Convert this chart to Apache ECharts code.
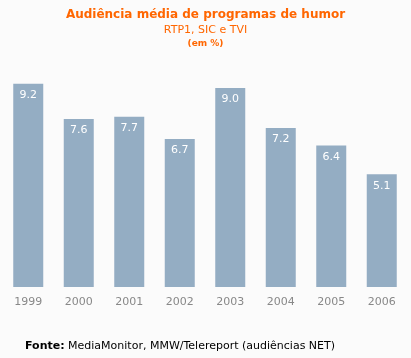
<!DOCTYPE html>
<html><head><meta charset="utf-8">
<script src="https://cdn.jsdelivr.net/npm/echarts@6/dist/echarts.min.js"></script>
<style>html,body{margin:0;padding:0;background:#fbfbfb}#c{width:411px;height:358px}</style>
</head><body><div id="c"></div>
<script>
const categories = ['1999','2000','2001','2002','2003','2004','2005','2006'];
const values = [9.2, 7.6, 7.7, 6.7, 9.0, 7.2, 6.4, 5.1];
const chart = echarts.init(document.getElementById('c'));
const F = 'DejaVu Sans, Verdana, sans-serif';
chart.setOption({
  backgroundColor: '#fbfbfb',
  animation: false,
  title: [
    {text: 'Audiência média de programas de humor', left: 'center', top: 4,
     textStyle: {fontFamily: F, fontSize: 12, fontWeight: 'bold', color: '#ff6600'}},
    {text: 'RTP1, SIC e TVI', left: 'center', top: 20,
     textStyle: {fontFamily: F, fontSize: 11, fontWeight: 'normal', color: '#ff6600'}},
    {text: '(em %)', left: 'center', top: 34,
     textStyle: {fontFamily: F, fontSize: 9, fontWeight: 'bold', color: '#ff6600'}},
    {text: '{b|Fonte:} MediaMonitor, MMW/Telereport (audiências NET)', left: 20, top: 336,
     textStyle: {fontFamily: F, fontSize: 11, fontWeight: 'normal', color: '#000',
       rich: {b: {fontFamily: F, fontSize: 11, fontWeight: 'bold', color: '#000'}}}}
  ],
  grid: {left: 3, right: 4, top: 66, bottom: 71},
  xAxis: {type: 'category', data: categories,
    axisLine: {show: false}, axisTick: {show: false},
    axisLabel: {fontFamily: F, fontSize: 11, color: '#888', margin: 10}},
  yAxis: {type: 'value', min: 0, max: 10, show: false, splitLine: {show: false}},
  series: [{type: 'bar', data: values, barWidth: 30,
    itemStyle: {color: '#94adc3'},
    label: {show: true, position: 'insideTop', distance: 6, color: '#fff',
      fontFamily: F, fontSize: 11, formatter: p => p.value.toFixed(1)}}]
});
</script></body></html>
